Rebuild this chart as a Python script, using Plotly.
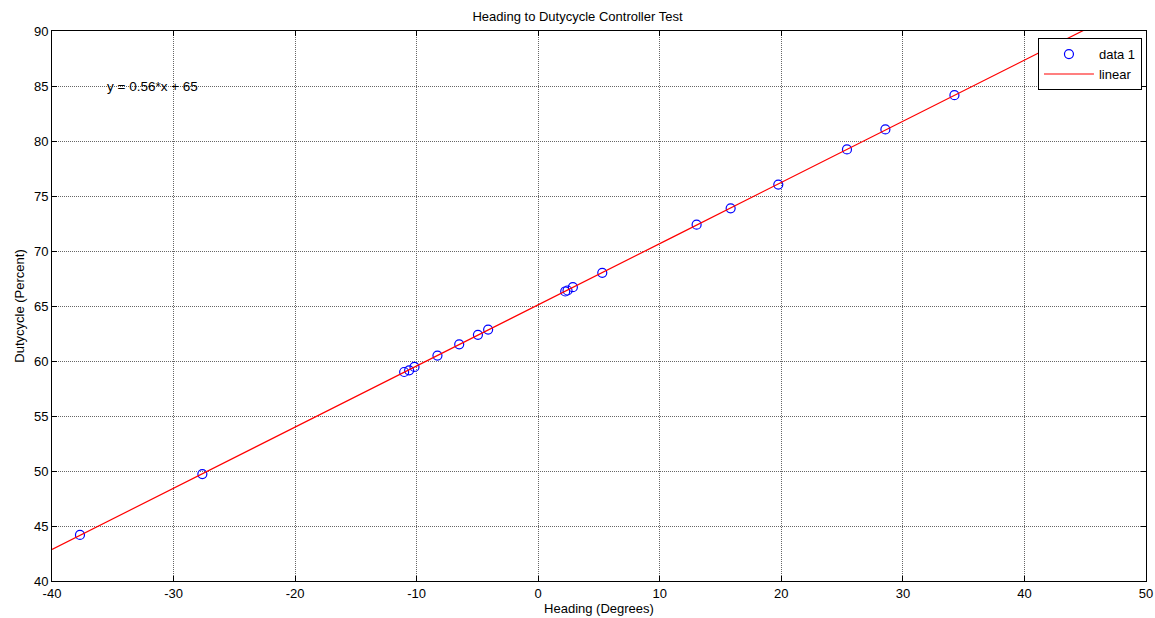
import numpy as np
import plotly.graph_objects as go

heading = [-37.70, -27.63, -11.03, -10.62, -10.18, -8.29, -6.50, -4.96, -4.12,
           2.22, 2.41, 2.85, 5.27, 13.03, 15.83, 19.75, 25.40, 28.56, 34.24]
duty = [44.19, 49.72, 59.00, 59.15, 59.46, 60.49, 61.52, 62.38, 62.86,
        66.32, 66.41, 66.71, 68.02, 72.39, 73.88, 76.04, 79.23, 81.05, 84.17]

x_ticks = [-40, -30, -20, -10, 0, 10, 20, 30, 40, 50]
y_ticks = [40, 45, 50, 55, 60, 65, 70, 75, 80, 85, 90]
equation_label = "y = 0.56*x + 65"

slope, intercept = np.polyfit(heading, duty, 1)
x_fit = np.linspace(-40, 50, 200)
y_fit = slope * x_fit + intercept

font = "Liberation Sans, Arial, sans-serif"
fs = 13

fig = go.Figure()
fig.add_trace(go.Scatter(
    x=heading, y=duty, mode="markers", name="data 1",
    marker=dict(symbol="circle-open", size=9, color="#0000ff", line=dict(width=1.2, color="#0000ff")),
))
fig.add_trace(go.Scatter(
    x=x_fit, y=y_fit, mode="lines", name="linear",
    line=dict(color="#ff0000", width=1.2),
))

axis_common = dict(
    showline=True, linecolor="black", linewidth=1, mirror="ticks",
    ticks="inside", ticklen=5, tickcolor="black",
    showgrid=True, gridcolor="#666666", griddash="1px,1px", gridwidth=1,
    zeroline=False, tickfont=dict(family=font, size=fs, color="black"),
    automargin=False, ticklabeloverflow="allow",
)

fig.update_layout(
    width=1155, height=618,
    margin=dict(l=52, r=9, t=31, b=37),
    paper_bgcolor="white", plot_bgcolor="white",
    title=dict(text="Heading to Dutycycle Controller Test", x=0.5, xanchor="center",
               y=0.973, yanchor="middle", font=dict(family=font, size=fs, color="black")),
    xaxis=dict(range=[-40, 50], tickvals=x_ticks, ticktext=[str(v) for v in x_ticks],
               title=dict(text="Heading (Degrees)", font=dict(family=font, size=fs, color="black"), standoff=2),
               **axis_common),
    yaxis=dict(range=[40, 90], tickvals=y_ticks, ticktext=[str(v) for v in y_ticks],
               title=dict(text="Dutycycle (Percent)", font=dict(family=font, size=fs, color="black"), standoff=6),
               **axis_common),
    legend=dict(x=0.9963, y=0.987, xanchor="right", yanchor="top",
                bgcolor="white", bordercolor="black", borderwidth=1,
                font=dict(family=font, size=fs, color="black"),
                tracegroupgap=0, itemwidth=50),
    showlegend=True,
    annotations=[dict(x=-35.6, y=85, xref="x", yref="y", text=equation_label,
                      showarrow=False, xanchor="left", yanchor="middle",
                      font=dict(family=font, size=13.5, color="black"))],
)

fig.write_html(
    "out.html",
    config={"displayModeBar": False},
    post_script="document.body.style.margin='0';document.body.style.overflow='hidden';document.documentElement.style.overflow='hidden';",
)
